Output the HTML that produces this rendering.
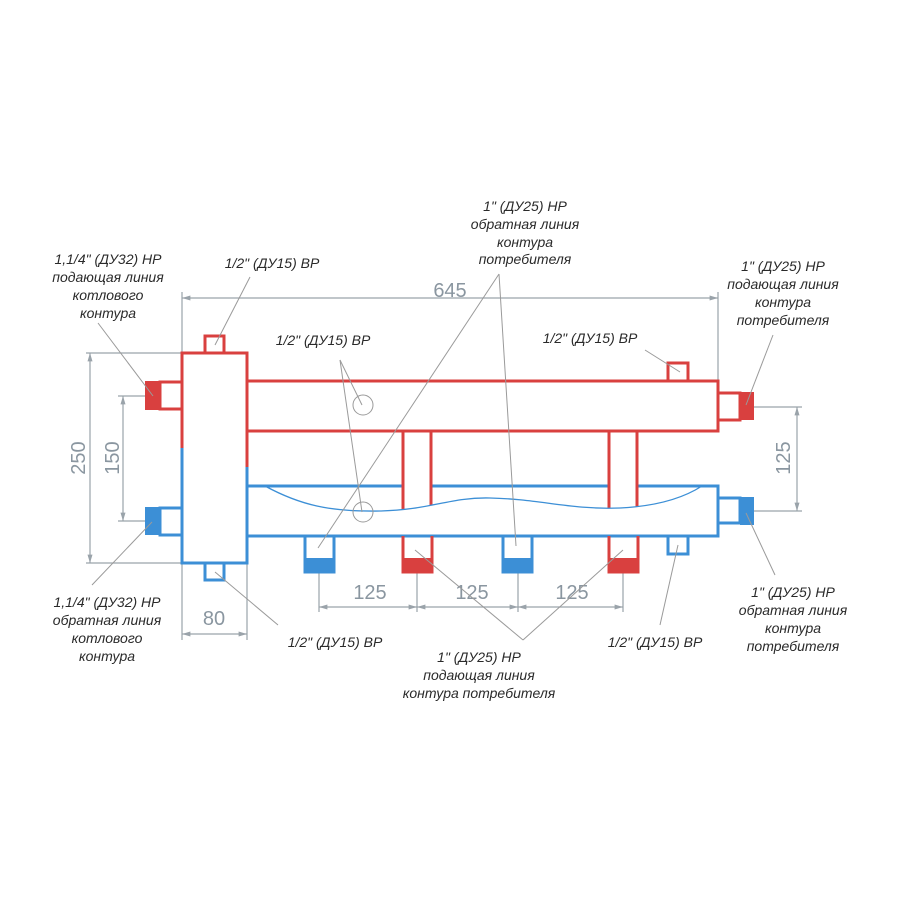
<!DOCTYPE html>
<html><head><meta charset="utf-8"><style>
html,body{margin:0;padding:0;background:#fff;}
svg{display:block}
.t{font-family:"Liberation Sans",sans-serif;font-style:italic;font-size:14px;fill:#2a2a2a;text-anchor:middle}
.d{font-family:"Liberation Sans",sans-serif;font-size:20px;fill:#8a96a0;text-anchor:middle}
.r{fill:none;stroke:#d9403f;stroke-width:3}
.b{fill:none;stroke:#3c8fd6;stroke-width:3}
.g{stroke:#9aa3aa;stroke-width:1.2;fill:none}
.l{stroke:#9a9a9a;stroke-width:1;fill:none}
</style></head><body>
<svg width="900" height="900" viewBox="0 0 900 900">
<defs>
<marker id="a" viewBox="0 0 10 10" refX="10" refY="5" markerWidth="7" markerHeight="7" orient="auto-start-reverse"><path d="M0,2 L10,5 L0,8 z" fill="#9aa3aa"/></marker>
</defs>
<g class="g">
<line x1="182" y1="292" x2="182" y2="353"/><line x1="718" y1="292" x2="718" y2="381"/>
<line x1="182" y1="298" x2="718" y2="298" marker-start="url(#a)" marker-end="url(#a)"/>
<line x1="86" y1="353" x2="182" y2="353"/><line x1="86" y1="563" x2="182" y2="563"/>
<line x1="90" y1="353" x2="90" y2="563" marker-start="url(#a)" marker-end="url(#a)"/>
<line x1="118" y1="396" x2="145" y2="396"/><line x1="118" y1="521" x2="145" y2="521"/>
<line x1="123" y1="396" x2="123" y2="521" marker-start="url(#a)" marker-end="url(#a)"/>
<line x1="754" y1="407" x2="802" y2="407"/><line x1="754" y1="511" x2="802" y2="511"/>
<line x1="797" y1="407" x2="797" y2="511" marker-start="url(#a)" marker-end="url(#a)"/>
<line x1="182" y1="563" x2="182" y2="640"/><line x1="247" y1="563" x2="247" y2="640"/>
<line x1="182" y1="634" x2="247" y2="634" marker-start="url(#a)" marker-end="url(#a)"/>
<line x1="319" y1="572" x2="319" y2="612"/><line x1="417" y1="572" x2="417" y2="612"/>
<line x1="518" y1="572" x2="518" y2="612"/><line x1="623" y1="572" x2="623" y2="612"/>
<line x1="319" y1="607" x2="417" y2="607" marker-start="url(#a)" marker-end="url(#a)"/>
<line x1="417" y1="607" x2="518" y2="607" marker-start="url(#a)" marker-end="url(#a)"/>
<line x1="518" y1="607" x2="623" y2="607" marker-start="url(#a)" marker-end="url(#a)"/>
</g>
<text class="d" x="450" y="297">645</text>
<text class="d" x="214" y="625">80</text>
<text class="d" x="370" y="599">125</text>
<text class="d" x="472" y="599">125</text>
<text class="d" x="572" y="599">125</text>
<text class="d" transform="translate(85,458) rotate(-90)">250</text>
<text class="d" transform="translate(119,458) rotate(-90)">150</text>
<text class="d" transform="translate(790,458) rotate(-90)">125</text>

<rect x="145" y="381" width="15" height="29" fill="#d9403f"/>
<rect x="145" y="507" width="15" height="28" fill="#3c8fd6"/>
<rect x="740" y="392" width="14" height="28" fill="#d9403f"/>
<rect x="740" y="497" width="14" height="28" fill="#3c8fd6"/>
<rect x="305" y="558" width="29" height="14" fill="#3c8fd6"/>
<rect x="503" y="558" width="29" height="14" fill="#3c8fd6"/>
<rect x="403" y="558" width="29" height="14" fill="#d9403f"/>
<rect x="609" y="558" width="29" height="14" fill="#d9403f"/>

<rect class="r" x="247" y="381" width="471" height="50"/>
<rect class="r" x="718" y="393" width="22" height="27"/>
<rect class="r" x="668" y="363" width="20" height="18"/>
<path class="b" d="M247,486 H403 M431,486 H609 M637,486 H718 V536 H247"/>
<rect class="b" x="718" y="498" width="22" height="25"/>
<rect class="b" x="668" y="536" width="20" height="18"/>
<path class="r" d="M403,431 V510 M431,431 V505 M609,431 V508 M637,431 V507"/>
<path class="b" d="M305,536 V572 H334 V536 M503,536 V572 H532 V536"/>
<path class="r" d="M403,536 V572 H432 V536 M609,536 V572 H638 V536"/>
<path d="M265,486 C300,505 330,512 380,511 C430,510 450,497 490,498 C540,499 570,510 620,508 C660,506 685,497 702,486" fill="none" stroke="#3c8fd6" stroke-width="1.3"/>

<path class="r" d="M182,448 V353 H247 V467"/>
<path class="b" d="M182,448 V563 H247 V467"/>
<rect class="r" x="160" y="382" width="22" height="27"/>
<rect class="b" x="160" y="508" width="22" height="27"/>
<rect class="r" x="205" y="336" width="19" height="17"/>
<rect class="b" x="205" y="563" width="19" height="17"/>
<circle cx="363" cy="405" r="10" class="l"/>
<circle cx="363" cy="512" r="10" class="l"/>

<g class="l">
<line x1="98" y1="323" x2="153" y2="396"/>
<line x1="250" y1="277" x2="215" y2="345"/>
<line x1="340" y1="360" x2="362" y2="405"/>
<line x1="340" y1="360" x2="362" y2="512"/>
<line x1="499" y1="274" x2="318" y2="548"/>
<line x1="499" y1="274" x2="516" y2="546"/>
<line x1="773" y1="335" x2="746" y2="405"/>
<line x1="645" y1="350" x2="680" y2="372"/>
<line x1="92" y1="585" x2="152" y2="522"/>
<line x1="278" y1="625" x2="215" y2="572"/>
<line x1="523" y1="640" x2="415" y2="550"/>
<line x1="523" y1="640" x2="623" y2="550"/>
<line x1="660" y1="625" x2="678" y2="545"/>
<line x1="775" y1="575" x2="746" y2="513"/>
</g>

<text class="t" x="108" y="264">1,1/4" (ДУ32) НР</text>
<text class="t" x="108" y="282">подающая линия</text>
<text class="t" x="108" y="300">котлового</text>
<text class="t" x="108" y="318">контура</text>
<text class="t" x="272" y="268">1/2" (ДУ15) ВР</text>
<text class="t" x="323" y="345">1/2" (ДУ15) ВР</text>
<text class="t" x="525" y="211">1" (ДУ25) НР</text>
<text class="t" x="525" y="229">обратная линия</text>
<text class="t" x="525" y="247">контура</text>
<text class="t" x="525" y="264">потребителя</text>
<text class="t" x="783" y="271">1" (ДУ25) НР</text>
<text class="t" x="783" y="289">подающая линия</text>
<text class="t" x="783" y="307">контура</text>
<text class="t" x="783" y="325">потребителя</text>
<text class="t" x="590" y="343">1/2" (ДУ15) ВР</text>
<text class="t" x="107" y="607">1,1/4" (ДУ32) НР</text>
<text class="t" x="107" y="625">обратная линия</text>
<text class="t" x="107" y="643">котлового</text>
<text class="t" x="107" y="661">контура</text>
<text class="t" x="335" y="647">1/2" (ДУ15) ВР</text>
<text class="t" x="479" y="662">1" (ДУ25) НР</text>
<text class="t" x="479" y="680">подающая линия</text>
<text class="t" x="479" y="698">контура потребителя</text>
<text class="t" x="655" y="647">1/2" (ДУ15) ВР</text>
<text class="t" x="793" y="597">1" (ДУ25) НР</text>
<text class="t" x="793" y="615">обратная линия</text>
<text class="t" x="793" y="633">контура</text>
<text class="t" x="793" y="651">потребителя</text>
</svg>
</body></html>
